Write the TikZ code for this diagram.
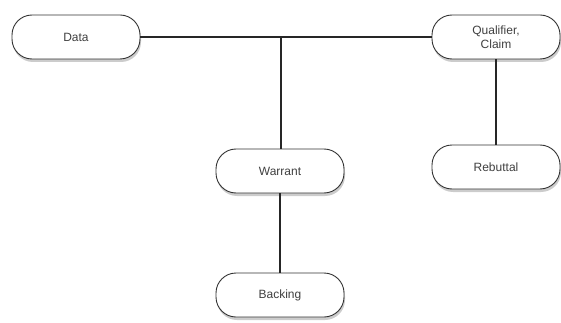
\documentclass[tikz,border=0pt]{standalone}
\usepackage{fontspec}
\setmainfont{Liberation Sans}
\usetikzlibrary{shadows}
\begin{document}
\begin{tikzpicture}[x=1pt,y=-1pt,
  pill/.style={draw=black!80, line width=0.9pt, fill=white, rounded corners=20pt,
    minimum width=128pt, minimum height=44pt, inner sep=0pt, align=center,
    font=\fontsize{12}{13.5}\selectfont, text=black!75,
    drop shadow={opacity=0.4, shadow xshift=1pt, shadow yshift=-3pt}},
  conn/.style={draw=black!85, line width=1.3pt}]
\useasboundingbox (0,0) rectangle (561,323);
\node[pill] (data) at (76,37) {Data};
\node[pill] (claim) at (496,37) {Qualifier,\\Claim};
\node[pill] (warrant) at (280,171) {Warrant};
\node[pill] (backing) at (280,295) {Backing};
\node[pill] (rebuttal) at (496,167) {Rebuttal};
\coordinate (j) at (281,37);
\draw[conn] (data.east) -- (claim.west);
\draw[conn] (j) -- (j |- warrant.north);
\draw[conn] (warrant.south) -- (backing.north);
\draw[conn] (claim.south) -- (rebuttal.north);
\end{tikzpicture}
\end{document}
